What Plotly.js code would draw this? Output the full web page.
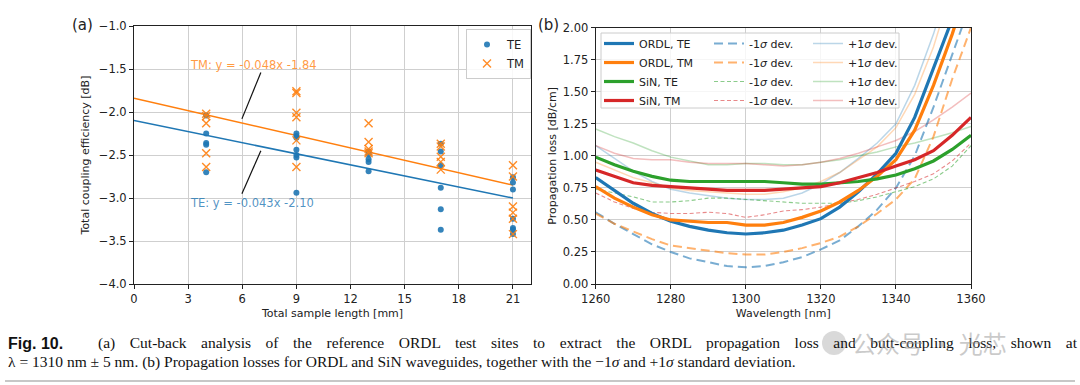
<!DOCTYPE html>
<html>
<head>
<meta charset="utf-8">
<script src="https://cdn.plot.ly/plotly-3.0.1.min.js"></script>
<style>html,body{margin:0;padding:0;background:#fff;}#chart{width:1080px;height:385px;}</style>
</head>
<body>
<div id="chart"></div>
<script>
// ---------- Panel (a): cut-back data ----------
const teX = [4,4,4,4,4, 9,9,9,9,9,9,9, 13,13,13,13,13, 17,17,17,17,17,17, 21,21,21,21,21,21,21];
const teY = [-2.04,-2.25,-2.36,-2.38,-2.70, -2.25,-2.28,-2.30,-2.44,-2.50,-2.53,-2.94, -2.46,-2.49,-2.55,-2.58,-2.69, -2.37,-2.46,-2.62,-2.88,-3.13,-3.37, -2.76,-2.82,-2.90,-3.24,-3.35,-3.37,-3.42];
const tmX = [4,4,4,4,4, 9,9,9,9,9,9, 13,13,13,13,13, 17,17,17,17,17, 21,21,21,21,21,21];
const tmY = [-2.02,-2.05,-2.13,-2.48,-2.64, -1.76,-1.78,-2.01,-2.06,-2.33,-2.64, -2.13,-2.35,-2.43,-2.46,-2.48, -2.37,-2.40,-2.52,-2.58,-2.67, -2.62,-2.75,-3.10,-3.17,-3.24,-3.42];
const fitX = [0, 21];
const teFit = [-2.10, -3.00];
const tmFit = [-1.84, -2.85];
const lengthTicks = [0,3,6,9,12,15,18,21];

// ---------- Panel (b): propagation loss ----------
const wavelength = [1260,1265,1270,1275,1280,1285,1290,1295,1300,1305,1310,1315,1320,1325,1330,1335,1340,1345,1350,1355,1360];
const ordlTE = [0.83,0.73,0.63,0.55,0.49,0.45,0.42,0.40,0.39,0.40,0.42,0.46,0.51,0.60,0.72,0.86,1.02,1.30,1.68,2.05,2.45];
const ordlTM = [0.76,0.67,0.60,0.54,0.50,0.49,0.48,0.48,0.46,0.46,0.48,0.52,0.57,0.64,0.73,0.84,0.97,1.20,1.55,1.95,2.40];
const sinTE  = [0.99,0.93,0.88,0.84,0.81,0.80,0.80,0.80,0.80,0.80,0.79,0.78,0.78,0.79,0.80,0.82,0.85,0.90,0.96,1.05,1.16];
const sinTM  = [0.89,0.84,0.79,0.77,0.76,0.75,0.74,0.73,0.73,0.73,0.74,0.75,0.76,0.79,0.83,0.87,0.92,0.97,1.04,1.16,1.30];
const ordlTEm = [0.56,0.47,0.39,0.31,0.25,0.20,0.17,0.14,0.13,0.14,0.17,0.21,0.27,0.34,0.45,0.58,0.75,1.00,1.38,1.80,2.20];
const ordlTMm = [0.55,0.47,0.41,0.35,0.30,0.28,0.26,0.24,0.23,0.23,0.25,0.28,0.32,0.37,0.45,0.55,0.66,0.82,1.15,1.60,2.00];
const sinTEm  = [0.74,0.71,0.68,0.64,0.64,0.65,0.67,0.67,0.66,0.65,0.64,0.63,0.63,0.63,0.65,0.68,0.72,0.76,0.82,0.92,1.08];
const sinTMm  = [0.71,0.64,0.59,0.56,0.55,0.55,0.56,0.55,0.52,0.54,0.57,0.58,0.60,0.63,0.66,0.70,0.75,0.80,0.86,0.96,1.10];
const ordlTEp = [1.08,0.98,0.88,0.80,0.74,0.71,0.69,0.67,0.66,0.66,0.67,0.71,0.78,0.87,0.98,1.10,1.25,1.55,1.95,2.40,2.90];
const ordlTMp = [0.95,0.89,0.83,0.79,0.75,0.73,0.72,0.71,0.70,0.70,0.72,0.75,0.80,0.87,0.97,1.07,1.22,1.48,1.85,2.30,2.80];
const sinTEp  = [1.21,1.15,1.10,1.04,0.99,0.96,0.93,0.93,0.94,0.94,0.93,0.93,0.95,0.97,1.00,1.03,1.07,1.10,1.14,1.18,1.23];
const sinTMp  = [1.08,1.02,0.98,0.97,0.97,0.95,0.94,0.94,0.94,0.93,0.92,0.93,0.95,0.98,1.02,1.07,1.12,1.19,1.28,1.38,1.49];

const mainNames = ['ORDL, TE','ORDL, TM','SiN, TE','SiN, TM'];
const minusName = '-1<i>σ</i> dev.';
const plusName = '+1<i>σ</i> dev.';

const caption1 = '(a) Cut-back analysis of the reference ORDL test sites to extract the ORDL propagation loss and butt-coupling loss, shown at';
const caption2 = 'λ = 1310 nm ± 5 nm. (b) Propagation losses for ORDL and SiN waveguides, together with the −1<i>σ</i> and +1<i>σ</i> standard deviation.';

const C = {blue:'31,119,180', orange:'255,127,14', green:'44,160,44', red:'214,39,40'};
const rgba = (c,a)=>'rgba('+c+','+a+')';
const FONT = 'DejaVu Sans';

const traces = [];
// panel (a)
traces.push({x:fitX, y:teFit, type:'scatter', mode:'lines', line:{color:rgba(C.blue,1), width:1.5}, showlegend:false, xaxis:'x', yaxis:'y', hoverinfo:'skip'});
traces.push({x:fitX, y:tmFit, type:'scatter', mode:'lines', line:{color:rgba(C.orange,1), width:1.5}, showlegend:false, xaxis:'x', yaxis:'y', hoverinfo:'skip'});
traces.push({x:teX, y:teY, type:'scatter', mode:'markers', name:'TE', marker:{color:rgba(C.blue,0.9), size:6, symbol:'circle'}, xaxis:'x', yaxis:'y', legend:'legend4'});
traces.push({x:tmX, y:tmY, type:'scatter', mode:'markers', name:'TM', marker:{color:rgba(C.orange,0.9), size:8, symbol:'x-thin', line:{color:rgba(C.orange,0.9), width:1.4}}, xaxis:'x', yaxis:'y', legend:'legend4'});

// panel (b)
const mainSeries = [ordlTE, ordlTM, sinTE, sinTM];
const minusSeries = [ordlTEm, ordlTMm, sinTEm, sinTMm];
const plusSeries = [ordlTEp, ordlTMp, sinTEp, sinTMp];
const cols = [C.blue, C.orange, C.green, C.red];
for (let i=0;i<4;i++){
  traces.push({x:wavelength, y:plusSeries[i], type:'scatter', mode:'lines', name:plusName,
    line:{color:rgba(cols[i],0.3), width:1.5}, xaxis:'x2', yaxis:'y2', legend:'legend3'});
}
for (let i=0;i<4;i++){
  const ordl = i<2;
  traces.push({x:wavelength, y:minusSeries[i], type:'scatter', mode:'lines', name:minusName,
    line:{color:rgba(cols[i], ordl?0.6:0.55), width: ordl?2:1.1, dash: ordl?'9px,5px':'4px,2.5px'}, xaxis:'x2', yaxis:'y2', legend:'legend2'});
}
for (let i=0;i<4;i++){
  traces.push({x:wavelength, y:mainSeries[i], type:'scatter', mode:'lines', name:mainNames[i],
    line:{color:rgba(cols[i],1), width:3.2}, xaxis:'x2', yaxis:'y2', legend:'legend'});
}

const W=1080, H=385;
const px = v=>v/W, py = v=>1-v/H;

const axisCommon = {
  showline:true, linecolor:'#222', linewidth:1, mirror:true,
  ticks:'outside', ticklen:4, tickcolor:'#222', tickwidth:1,
  showgrid:true, gridcolor:'#cfcfcf', gridwidth:1, zeroline:false,
  tickfont:{family:FONT, size:11.5, color:'#222'}
};

const legendBase = {xanchor:'left', yanchor:'top', bgcolor:'rgba(0,0,0,0)', borderwidth:0,
  font:{family:FONT, size:11, color:'#222'}, tracegroupgap:0, orientation:'v'};

const layout = {
  width:W, height:H,
  margin:{l:0,r:0,t:0,b:0},
  paper_bgcolor:'#fff', plot_bgcolor:'#fff',
  font:{family:FONT, color:'#222'},
  xaxis: Object.assign({}, axisCommon, {domain:[px(134), px(531)], range:[0,22], tickvals:lengthTicks, anchor:'y',
    title:{text:'Total sample length [mm]', font:{family:FONT, size:11, color:'#222'}, standoff:4}}),
  yaxis: Object.assign({}, axisCommon, {domain:[py(284), py(26)], range:[-4,-1], dtick:0.5, tickformat:'.1f', anchor:'x',
    title:{text:'Total coupling efficiency [dB]', font:{family:FONT, size:11, color:'#222'}, standoff:6}}),
  xaxis2: Object.assign({}, axisCommon, {domain:[px(595.7), px(971)], range:[1260,1360], dtick:20, anchor:'y2',
    title:{text:'Wavelength [nm]', font:{family:FONT, size:11, color:'#222'}, standoff:4}}),
  yaxis2: Object.assign({}, axisCommon, {domain:[py(284), py(27.7)], range:[0,2], dtick:0.25, tickformat:'.2f', anchor:'x2',
    title:{text:'Propagation loss [dB/cm]', font:{family:FONT, size:11, color:'#222'}, standoff:3}}),
  legend: Object.assign({}, legendBase, {x:px(599), y:py(29)}),
  legend2: Object.assign({}, legendBase, {x:px(709), y:py(29)}),
  legend3: Object.assign({}, legendBase, {x:px(808), y:py(29)}),
  legend4: Object.assign({}, legendBase, {x:px(466), y:py(29), bgcolor:'rgba(255,255,255,0.85)', bordercolor:'#cccccc', borderwidth:1, font:{family:FONT, size:11.5, color:'#222'}}),
  shapes:[
    {type:'line', xref:'x', yref:'y', x0:7.03, y0:-1.54, x1:5.98, y1:-2.08, line:{color:'#111', width:1.2}},
    {type:'line', xref:'x', yref:'y', x0:7.03, y0:-2.45, x1:5.98, y1:-2.95, line:{color:'#111', width:1.2}},
    {type:'rect', xref:'paper', yref:'paper', x0:px(601), x1:px(899), y0:py(108), y1:py(33), layer:'above',
      fillcolor:'rgba(255,255,255,0.8)', line:{color:'#cccccc', width:1}},
    {type:'line', xref:'paper', yref:'paper', x0:px(5), x1:px(1075), y0:py(381), y1:py(381), line:{color:'#b5b5b5', width:1.5}},
    {type:'circle', xref:'paper', yref:'paper', x0:px(822), x1:px(846), y0:py(355), y1:py(331), fillcolor:'rgba(170,170,170,0.45)', line:{width:0}}
  ],
  annotations:[
    {xref:'paper', yref:'paper', x:px(70), y:py(25), xanchor:'left', yanchor:'middle', showarrow:false, text:'(a)', font:{family:FONT, size:15, color:'#222'}},
    {xref:'paper', yref:'paper', x:px(536), y:py(25), xanchor:'left', yanchor:'middle', showarrow:false, text:'(b)', font:{family:FONT, size:15, color:'#222'}},
    {xref:'x', yref:'y', x:3, y:-1.455, xanchor:'left', yanchor:'middle', showarrow:false, text:'TM: y = -0.048x -1.84', font:{family:FONT, size:11.5, color:rgba(C.orange,0.8)}},
    {xref:'x', yref:'y', x:3, y:-3.06, xanchor:'left', yanchor:'middle', showarrow:false, text:'TE: y = -0.043x -2.10', font:{family:FONT, size:11.5, color:rgba(C.blue,0.8)}},
    {xref:'paper', yref:'paper', x:px(6), y:py(343), xanchor:'left', yanchor:'middle', showarrow:false, text:'<b>Fig. 10.</b>', font:{family:'Liberation Sans', size:16, color:'#111'}},
    {xref:'paper', yref:'paper', x:px(96), y:py(343), xanchor:'left', yanchor:'middle', align:'left', showarrow:false,
      text:caption1, font:{family:'Liberation Serif', size:15.5, color:'#111'}},
    {xref:'paper', yref:'paper', x:px(6), y:py(362), xanchor:'left', yanchor:'middle', align:'left', showarrow:false,
      text:caption2, font:{family:'Liberation Serif', size:15.5, color:'#111'}},
    {xref:'paper', yref:'paper', x:px(850), y:py(342), xanchor:'left', yanchor:'middle', showarrow:false,
      text:'公众号 · 光芯', font:{family:'Noto Sans CJK SC', size:24, color:'rgba(150,150,150,0.5)'}}
  ]
};

Plotly.newPlot('chart', traces, layout, {displayModeBar:false, staticPlot:true}).then(function(){
  // justify the first caption line like the printed caption (fills 96px .. 1075px)
  document.querySelectorAll('.annotation-text').forEach(function(t){
    if (t.textContent.indexOf('(a) Cut-back') === 0) {
      const natural = t.getComputedTextLength();
      const spaces = (caption1.match(/ /g) || []).length;
      const extra = Math.max(0, (979 - natural) / spaces);
      t.style.wordSpacing = extra + 'px';
    }
  });
});
</script>
</body>
</html>
